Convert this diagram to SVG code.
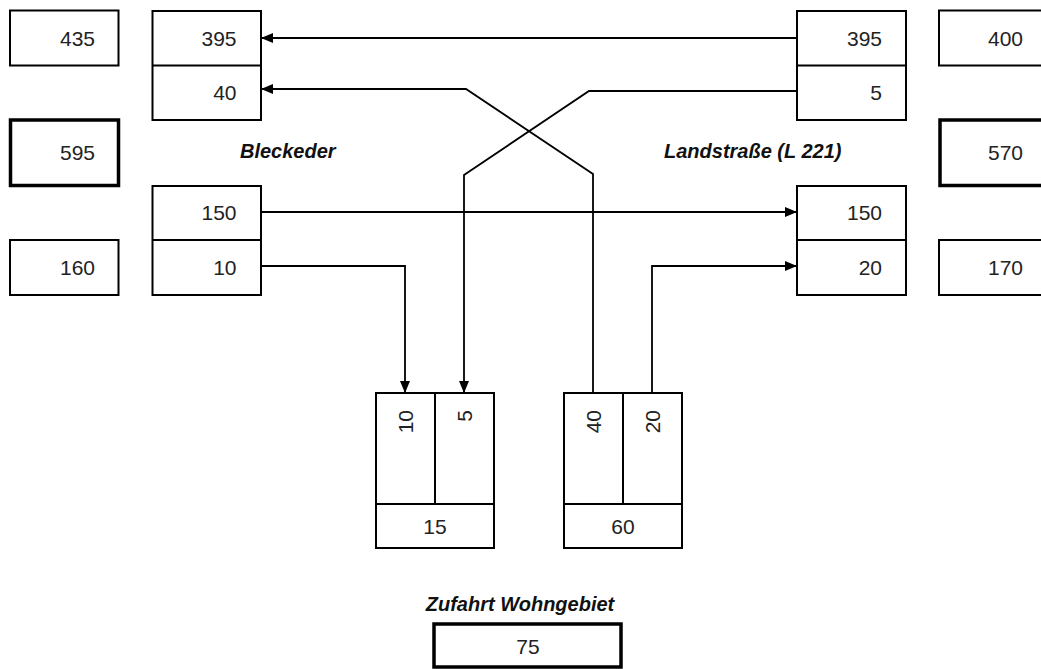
<svg xmlns="http://www.w3.org/2000/svg" width="1041" height="669" viewBox="0 0 1041 669">
<defs>
<style>
.b{fill:#fff;stroke:#000;stroke-width:2}
.t{fill:none;stroke:#000;stroke-width:3.5}
.d{stroke:#000;stroke-width:2;fill:none}
.n{font-family:"Liberation Sans",Arial,sans-serif;font-size:21px;fill:#222}
.r{text-anchor:end}
.m{text-anchor:middle}
.l{font-family:"Liberation Sans",Arial,sans-serif;font-size:20px;font-weight:bold;font-style:italic;fill:#111}
.c{fill:none;stroke:#000;stroke-width:1.8;marker-end:url(#a)}
</style>
<marker id="a" markerUnits="userSpaceOnUse" markerWidth="13" markerHeight="11" refX="12" refY="5" orient="auto" viewBox="0 0 13 11">
<path d="M0,0 L12,5 L0,10 z" fill="#000"/>
</marker>
</defs>
<rect width="1041" height="669" fill="#fff"/>

<g id="box-435"><rect class="b" x="10" y="10.5" width="108.5" height="55"/><text class="n r" x="95" y="46">435</text></g>
<g id="box-595"><rect class="t" x="10.5" y="120" width="108" height="65.5"/><text class="n r" x="95" y="160">595</text></g>
<g id="box-160"><rect class="b" x="10" y="240" width="108.5" height="55"/><text class="n r" x="95" y="275">160</text></g>

<g id="bleckeder-top"><rect class="b" x="152.5" y="11" width="108.5" height="109"/><line class="d" x1="152.5" y1="65.5" x2="261" y2="65.5"/><text class="n r" x="236.5" y="46">395</text><text class="n r" x="236.5" y="100">40</text></g>
<g id="bleckeder-bottom"><rect class="b" x="152.5" y="186" width="108.5" height="109"/><line class="d" x1="152.5" y1="240" x2="261" y2="240"/><text class="n r" x="236.5" y="220">150</text><text class="n r" x="236.5" y="275">10</text></g>

<g id="landstrasse-top"><rect class="b" x="797" y="11" width="109" height="109"/><line class="d" x1="797" y1="65.5" x2="906" y2="65.5"/><text class="n r" x="882" y="46">395</text><text class="n r" x="882" y="100">5</text></g>
<g id="landstrasse-bottom"><rect class="b" x="797" y="186" width="109" height="109"/><line class="d" x1="797" y1="240" x2="906" y2="240"/><text class="n r" x="882" y="220">150</text><text class="n r" x="882" y="275">20</text></g>

<g id="box-400"><rect class="b" x="939" y="10.5" width="110" height="55"/><text class="n r" x="1023" y="46">400</text></g>
<g id="box-570"><rect class="t" x="940" y="120" width="110" height="65.5"/><text class="n r" x="1023" y="160">570</text></g>
<g id="box-170"><rect class="b" x="939" y="240" width="110" height="55"/><text class="n r" x="1023" y="275">170</text></g>

<g id="label-bleckeder"><text class="l" x="240" y="158">Bleckeder</text></g>
<g id="label-landstrasse"><text class="l" x="664" y="158">Landstraße (L 221)</text></g>
<g id="label-zufahrt"><text class="l m" x="520" y="611">Zufahrt Wohngebiet</text></g>

<g id="zufahrt-in"><rect class="b" x="376" y="393" width="118" height="155"/><line class="d" x1="435" y1="393" x2="435" y2="504"/><line class="d" x1="376" y1="504" x2="494" y2="504"/>
<text class="n r" transform="translate(413,410) rotate(-90)">10</text>
<text class="n r" transform="translate(472,410) rotate(-90)">5</text>
<text class="n m" x="435" y="534">15</text></g>
<g id="zufahrt-out"><rect class="b" x="564" y="393" width="118" height="155"/><line class="d" x1="623" y1="393" x2="623" y2="504"/><line class="d" x1="564" y1="504" x2="682" y2="504"/>
<text class="n r" transform="translate(601,410) rotate(-90)">40</text>
<text class="n r" transform="translate(660,410) rotate(-90)">20</text>
<text class="n m" x="623" y="534">60</text></g>

<g id="box-75"><rect class="t" x="434" y="624" width="187" height="43"/><text class="n m" x="528" y="654">75</text></g>

<g id="connectors">
<path class="c" d="M797,38 H261"/>
<path class="c" d="M593,393 V174 L466,89 H261"/>
<path class="c" d="M797,91 H589 L464,175 V393"/>
<path class="c" d="M261,212 H797"/>
<path class="c" d="M261,266 H405 V393"/>
<path class="c" d="M652,393 V266 H797"/>
</g>
</svg>
